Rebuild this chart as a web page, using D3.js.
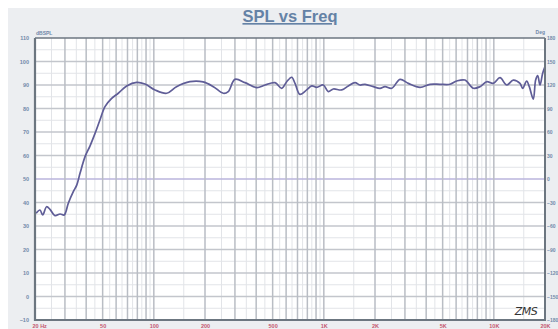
<!DOCTYPE html>
<html>
<head>
<meta charset="utf-8">
<script src="https://cdn.jsdelivr.net/npm/d3@7"></script>
<style>
  html, body { margin: 0; padding: 0; background: #ffffff; }
  svg { display: block; font-family: "Liberation Sans", Arial, sans-serif; }
</style>
</head>
<body>
<svg id="chart" width="558" height="329"></svg>
<script>
// Frequency response measurement (Hz, dB SPL)
const freqHz = [20.3, 21.4, 22.2, 23.4, 24.5, 26.2, 28.1, 29.7, 31.4, 33.6, 35.2, 36.8,
  39.4, 42.1, 45.1, 48.2, 51.6, 56.5, 61.8, 69.2, 79.3, 88.7, 101.6, 119, 136, 163,
  195, 224, 256, 274, 300, 344, 403, 451, 516, 565, 605, 647, 677, 724, 793, 849, 908,
  993, 1062, 1137, 1274, 1393, 1526, 1633, 1747, 1955, 2140, 2290, 2508, 2806, 3140,
  3680, 4214, 4822, 5520, 6052, 6765, 7572, 8292, 9080, 9930, 10870, 11908, 13020,
  14256, 14780, 15600, 16170, 17070, 17620, 18120, 18690, 19380, 20000];
const splDb = [35.4, 36.8, 34.7, 38.2, 37.1, 34.4, 35.1, 34.7, 39.7, 44.6, 47.4, 52.4,
  59.5, 64.0, 69.4, 75.1, 80.8, 84.3, 86.5, 89.6, 91.1, 90.4, 87.9, 86.5, 89.3, 91.4,
  91.3, 89.3, 86.5, 87.2, 92.4, 91.0, 88.9, 90.0, 91.0, 88.6, 91.4, 93.3, 90.7, 86.0,
  87.9, 89.6, 89.0, 90.0, 87.2, 88.3, 87.9, 89.6, 91.0, 90.0, 90.3, 89.3, 88.6, 89.3,
  88.6, 92.4, 90.7, 89.0, 90.3, 90.3, 90.3, 91.7, 92.1, 88.6, 89.3, 91.4, 90.7, 93.1,
  90.0, 92.1, 90.7, 88.6, 91.7, 89.3, 84.0, 92.1, 94.0, 90.0, 95.0, 97.8];

// Axis tick labels
const dbTicks = [110, 100, 90, 80, 70, 60, 50, 40, 30, 20, 10, 0, -10];
const degTicks = [180, 150, 120, 90, 60, 30, 0, -30, -60, -90, -120, -150, -180];
const freqTickValues = [20, 50, 100, 200, 500, 1000, 2000, 5000, 10000, 20000];
const freqTickLabels = ["20 Hz", "50", "100", "200", "500", "1K", "2K", "5K", "10K", "20K"];

const svg = d3.select("#chart");
const W = 558, H = 329;
const plot = { left: 35, right: 545, top: 38, bottom: 320 };

const x = d3.scaleLog().domain([20, 20000]).range([plot.left, plot.right]);
const y = d3.scaleLinear().domain([-10, 110]).range([plot.bottom, plot.top]);
const yDeg = d3.scaleLinear().domain([-180, 180]).range([plot.bottom, plot.top]);

// Panel background
svg.append("rect").attr("x", 8).attr("y", 8).attr("width", W - 8).attr("height", H - 8)
  .attr("fill", "#eceef1");
svg.append("rect").attr("x", plot.left).attr("y", plot.top)
  .attr("width", plot.right - plot.left).attr("height", plot.bottom - plot.top)
  .attr("fill", "#ffffff");

const grid = svg.append("g");

// Minor horizontal grid (every 5 dB)
const minorDb = d3.range(-5, 110, 10);
grid.selectAll(".hminor").data(minorDb).join("line")
  .attr("x1", plot.left).attr("x2", plot.right)
  .attr("y1", d => y(d)).attr("y2", d => y(d))
  .attr("stroke", "#e2e4e8").attr("stroke-width", 1);

// Minor vertical grid (half steps within each decade)
const minorF = [];
[10, 100, 1000, 10000].forEach(dec => {
  for (let k = 1; k <= 9; k++) {
    const f = (k + 0.5) * dec;
    if (f > 20 && f < 20000) minorF.push(f);
  }
});
grid.selectAll(".vminor").data(minorF).join("line")
  .attr("x1", d => x(d)).attr("x2", d => x(d))
  .attr("y1", plot.top).attr("y2", plot.bottom)
  .attr("stroke", "#e2e4e8").attr("stroke-width", 1);

// Major horizontal grid (every 10 dB)
grid.selectAll(".hmajor").data(dbTicks.filter(d => d > -10 && d < 110)).join("line")
  .attr("x1", plot.left).attr("x2", plot.right)
  .attr("y1", d => y(d)).attr("y2", d => y(d))
  .attr("stroke", d => d === 50 ? "#bab5dc" : "#c3c6cc")
  .attr("stroke-width", d => d === 50 ? 1.7 : 1.3);

// Major vertical grid (1..9 per decade)
const majorF = [];
[10, 100, 1000, 10000].forEach(dec => {
  for (let k = 1; k <= 9; k++) {
    const f = k * dec;
    if (f > 20 && f < 20000) majorF.push(f);
  }
});
grid.selectAll(".vmajor").data(majorF).join("line")
  .attr("x1", d => x(d)).attr("x2", d => x(d))
  .attr("y1", plot.top).attr("y2", plot.bottom)
  .attr("stroke", "#b9bdc4").attr("stroke-width", 1.5);

// Response curve
const line = d3.line().x((d, i) => x(freqHz[i])).y(d => y(d)).curve(d3.curveCatmullRom.alpha(0.5));
svg.append("path").datum(splDb)
  .attr("d", line)
  .attr("fill", "none")
  .attr("stroke", "#5f5d97")
  .attr("stroke-width", 1.7)
  .attr("stroke-linejoin", "round");

// Frame
const frame = svg.append("g").attr("stroke", "#6c7680").attr("fill", "none");
frame.append("line").attr("x1", plot.left).attr("x2", plot.right)
  .attr("y1", plot.top).attr("y2", plot.top).attr("stroke-width", 1.5);
frame.append("line").attr("x1", plot.left).attr("x2", plot.left)
  .attr("y1", plot.top).attr("y2", plot.bottom + 1).attr("stroke-width", 2.2);
frame.append("line").attr("x1", plot.right).attr("x2", plot.right)
  .attr("y1", plot.top).attr("y2", plot.bottom + 1).attr("stroke-width", 2);
frame.append("line").attr("x1", plot.left).attr("x2", plot.right)
  .attr("y1", plot.bottom).attr("y2", plot.bottom).attr("stroke-width", 2.2);

// Left axis labels (dB SPL)
const leftAxis = d3.axisLeft(y).tickValues(dbTicks).tickSize(0).tickPadding(6);
const gl = svg.append("g").attr("transform", `translate(${plot.left},0)`).call(leftAxis);
gl.select(".domain").remove();
gl.selectAll("text").attr("fill", "#7189a9").attr("font-size", 5.5).attr("font-weight", "bold")
  .attr("font-family", "Liberation Sans, Arial, sans-serif");

// Right axis labels (degrees)
const rightAxis = d3.axisRight(yDeg).tickValues(degTicks).tickSize(0).tickPadding(2);
const gr = svg.append("g").attr("transform", `translate(${plot.right},0)`).call(rightAxis);
gr.select(".domain").remove();
gr.selectAll("text").attr("fill", "#7189a9").attr("font-size", 5).attr("font-weight", "bold")
  .attr("font-family", "Liberation Sans, Arial, sans-serif");

// Bottom axis labels (frequency)
const bottomAxis = d3.axisBottom(x).tickValues(freqTickValues)
  .tickFormat((d, i) => freqTickLabels[i]).tickSize(0).tickPadding(4);
const gb = svg.append("g").attr("transform", `translate(0,${plot.bottom})`).call(bottomAxis);
gb.select(".domain").remove();
gb.selectAll("text").attr("fill", "#c4566f").attr("font-size", 5.5).attr("font-weight", "bold")
  .attr("font-family", "Liberation Sans, Arial, sans-serif")
  .attr("text-anchor", (d, i) => i === 0 ? "start" : "middle")
  .attr("dx", (d, i) => i === 0 ? -3 : 0);

// Axis unit captions
svg.append("text").attr("x", plot.left + 1).attr("y", plot.top - 3)
  .attr("font-size", 5).attr("font-weight", "bold").attr("fill", "#7189a9")
  .text("dBSPL");
svg.append("text").attr("x", plot.right).attr("y", plot.top - 4)
  .attr("text-anchor", "end")
  .attr("font-size", 5).attr("font-weight", "bold").attr("fill", "#7189a9")
  .text("Deg");

// Title
svg.append("text").attr("x", (plot.left + plot.right) / 2).attr("y", 22)
  .attr("text-anchor", "middle")
  .attr("font-size", 16.5).attr("font-weight", "bold").attr("fill", "#6482a6")
  .attr("text-decoration", "underline")
  .text("SPL vs Freq");

// Maker mark
svg.append("text").attr("x", 526).attr("y", 315)
  .attr("text-anchor", "middle")
  .attr("font-family", "DejaVu Sans, sans-serif").attr("font-style", "italic")
  .attr("font-size", 11).attr("fill", "#333333").attr("letter-spacing", -0.5)
  .text("ZMS");
</script>
</body>
</html>
